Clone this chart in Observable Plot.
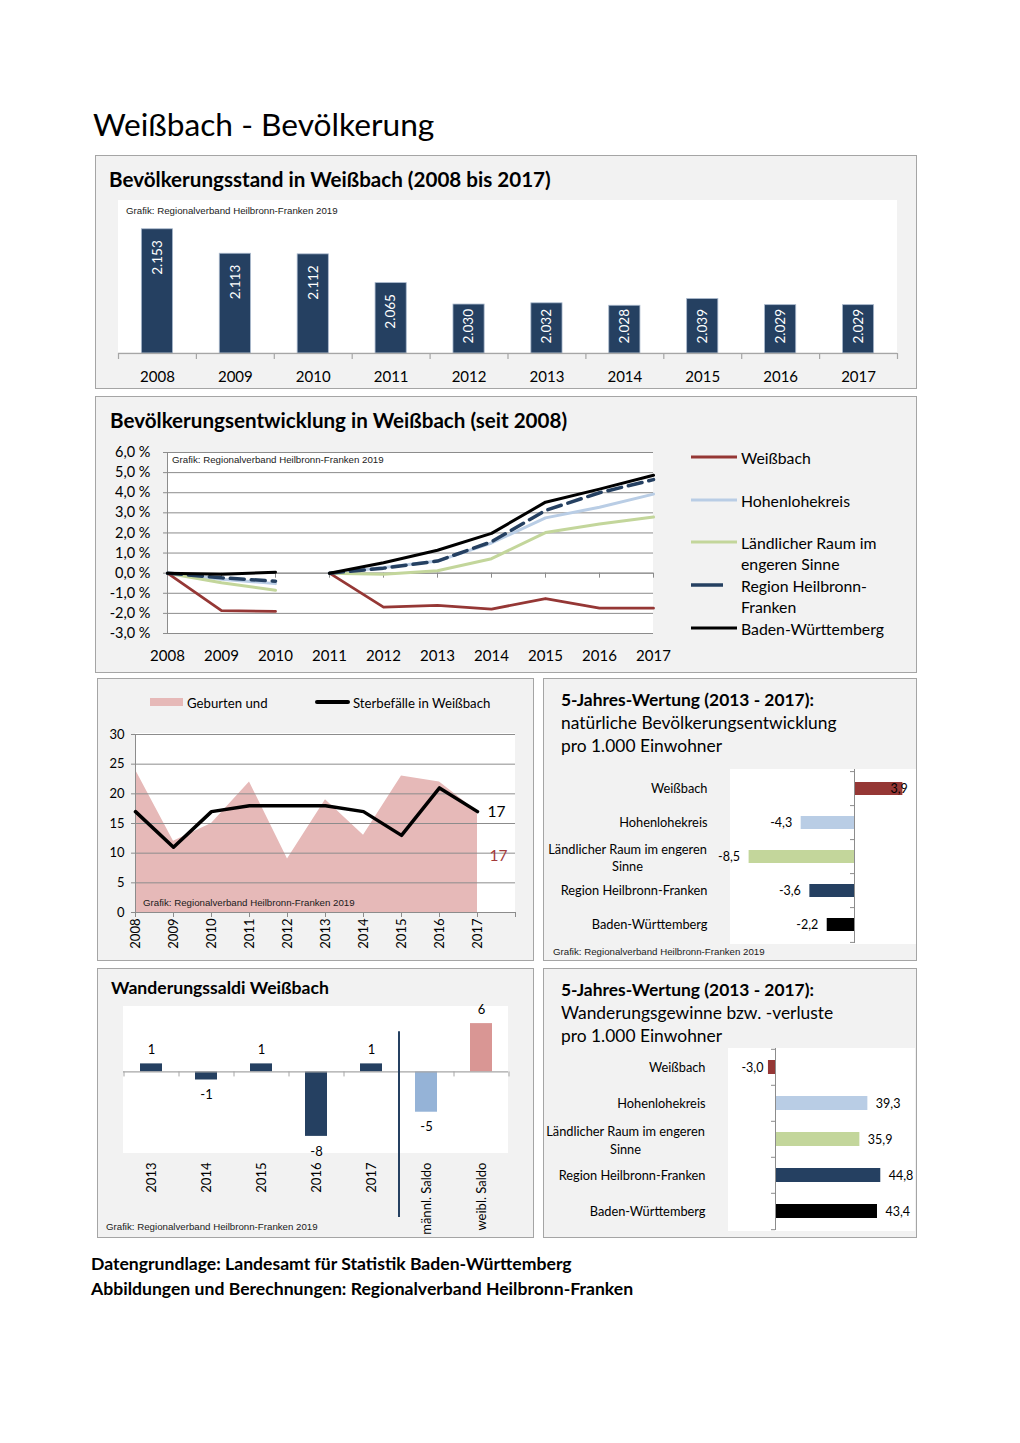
<!DOCTYPE html>
<html lang="de">
<head>
<meta charset="utf-8">
<title>Weißbach - Bevölkerung</title>
<script src="https://cdn.jsdelivr.net/npm/d3@7"></script>
<script src="https://cdn.jsdelivr.net/npm/@observablehq/plot@0.6"></script>
<style>
  html, body { margin: 0; padding: 0; background: #fff; }
  #page { position: relative; width: 1020px; height: 1443px; overflow: hidden; font-family: Lato, "Open Sans", sans-serif; color: #000; }
  .box { position: absolute; background: #f2f2f2; border: 1.5px solid #a5a5a5; box-sizing: border-box; }
  .white { position: absolute; background: #fff; }
  .txt { position: absolute; white-space: nowrap; }
  .grafik { position: absolute; white-space: nowrap; font-family: "Liberation Sans", Arial, sans-serif; font-size: 9.7px; line-height: 12px; color: #1a1a1a; }
  .chart { position: absolute; }
  .chart svg { overflow: visible; max-width: none; }
  .leg { position: absolute; white-space: nowrap; }
</style>
</head>
<body>
<div id="page">
  <div class="txt" style="left:93px;top:103px;font-size:31.7px;line-height:42px;">Weißbach - Bevölkerung</div>

  <div class="box" style="left:95px;top:155px;width:822px;height:234px;"></div>
  <div class="white" style="left:118px;top:200px;width:779px;height:155px;"></div>
  <div class="txt" style="left:109px;top:166px;font-size:20.6px;line-height:27px;font-weight:700;">Bevölkerungsstand in Weißbach (2008 bis 2017)</div>
  <div class="grafik" style="left:126px;top:205px;">Grafik: Regionalverband Heilbronn-Franken 2019</div>

  <div class="box" style="left:95px;top:396px;width:822px;height:277px;"></div>
  <div class="white" style="left:167px;top:452px;width:486px;height:181px;"></div>
  <div class="txt" style="left:110px;top:407px;font-size:20.6px;line-height:27px;font-weight:700;">Bevölkerungsentwicklung in Weißbach (seit 2008)</div>
  <div class="grafik" style="left:172px;top:454px;">Grafik: Regionalverband Heilbronn-Franken 2019</div>

  <div class="box" style="left:97px;top:678px;width:437px;height:283px;"></div>
  <div class="white" style="left:135px;top:733px;width:380px;height:179px;"></div>

  <div class="box" style="left:543px;top:678px;width:374px;height:283px;"></div>
  <div class="white" style="left:730px;top:769px;width:186px;height:175px;"></div>
  <div class="txt" style="left:561px;top:688px;font-size:17.4px;line-height:23px;">
    <b>5-Jahres-Wertung (2013 - 2017):</b><br>natürliche Bevölkerungsentwicklung<br>pro 1.000 Einwohner
  </div>
  <div class="grafik" style="left:553px;top:946px;">Grafik: Regionalverband Heilbronn-Franken 2019</div>

  <div class="box" style="left:97px;top:968px;width:437px;height:270px;"></div>
  <div class="white" style="left:123px;top:1006px;width:385px;height:147px;"></div>
  <div class="txt" style="left:111px;top:976px;font-size:17.6px;line-height:24px;font-weight:700;">Wanderungssaldi Weißbach</div>
  <div class="grafik" style="left:106px;top:1221px;">Grafik: Regionalverband Heilbronn-Franken 2019</div>

  <div class="box" style="left:543px;top:968px;width:374px;height:270px;"></div>
  <div class="white" style="left:728px;top:1048px;width:187px;height:183px;"></div>
  <div class="txt" style="left:561px;top:978px;font-size:17.4px;line-height:23px;">
    <b>5-Jahres-Wertung (2013 - 2017):</b><br>Wanderungsgewinne bzw. -verluste<br>pro 1.000 Einwohner
  </div>

  <div class="txt" style="left:91px;top:1251px;font-size:17.6px;line-height:25px;font-weight:700;">
    Datengrundlage: Landesamt für Statistik Baden-Württemberg<br>Abbildungen und Berechnungen: Regionalverband Heilbronn-Franken
  </div>
</div>
<script>
// ---------------- DATA ----------------
// Bevölkerungsstand
const bestandJahre = [2008, 2009, 2010, 2011, 2012, 2013, 2014, 2015, 2016, 2017];
const bestandWerte = [2153, 2113, 2112, 2065, 2030, 2032, 2028, 2039, 2029, 2029];

// Bevölkerungsentwicklung (%), Abschnitt A: 2008-2010, Abschnitt B: 2011-2017
const entwJahreA = [2008, 2009, 2010];
const entwJahreB = [2011, 2012, 2013, 2014, 2015, 2016, 2017];
const entwJahreAlle = [2008, 2009, 2010, 2011, 2012, 2013, 2014, 2015, 2016, 2017];
const entwReihen = ["Weißbach", "Hohenlohekreis", "Ländlicher Raum im engeren Sinne", "Region Heilbronn-Franken", "Baden-Württemberg"];
const weissbachA = [0, -1.86, -1.90];
const weissbachB = [0, -1.69, -1.60, -1.79, -1.26, -1.74, -1.74];
const hohenloheA = [0, -0.30, -0.52];
const hohenloheB = [0, 0.28, 0.60, 1.50, 2.75, 3.28, 3.93];
const laendlichA = [0, -0.48, -0.85];
const laendlichB = [0, -0.05, 0.12, 0.72, 2.02, 2.44, 2.79];
const regionA = [0, -0.23, -0.40];
const regionB = [0, 0.25, 0.60, 1.56, 3.12, 4.00, 4.65];
const bwA = [0, -0.05, 0.05];
const bwB = [0, 0.52, 1.14, 1.98, 3.53, 4.18, 4.87];
const entwYTicks = [-3, -2, -1, 0, 1, 2, 3, 4, 5, 6];

// Geburten und Sterbefälle
const natJahre = [2008, 2009, 2010, 2011, 2012, 2013, 2014, 2015, 2016, 2017];
const geburten = [24, 12, 15, 22, 9, 19, 13, 23, 22, 17];
const sterbefaelle = [17, 11, 17, 18, 18, 18, 17, 13, 21, 17];
const natYTicks = [0, 5, 10, 15, 20, 25, 30];

// 5-Jahres-Wertung
const gebiete = ["Weißbach", "Hohenlohekreis", "Ländlicher Raum im engeren Sinne", "Region Heilbronn-Franken", "Baden-Württemberg"];
const gebietFarben = ["#953735", "#b9cde5", "#c3d69b", "#254061", "#000000"];
const natSaldo5J = [3.9, -4.3, -8.5, -3.6, -2.2];
const wandSaldo5J = [-3.0, 39.3, 35.9, 44.8, 43.4];

// Wanderungssaldi Weißbach
const wandKategorien = ["2013", "2014", "2015", "2016", "2017", "männl. Saldo", "weibl. Saldo"];
const wandWerte = [1, -1, 1, -8, 1, -5, 6];
const wandFarben = ["#254061", "#254061", "#254061", "#254061", "#254061", "#95b3d7", "#d99694"];

// ---------------- HELPERS ----------------
const loc = d3.formatLocale({decimal: ",", thousands: ".", grouping: [3], currency: ["", "€"], minus: "-"});
const fmtPop = loc.format(",d");
const fmtDec = loc.format(".1f");
const FONT = "Lato, 'Open Sans', sans-serif";
const GRID = "#8c8c8c";
const AXIS = "#a6a6a6";
const page = document.getElementById("page");
const baseStyle = {background: "transparent", fontFamily: FONT, color: "#000", overflow: "visible"};

function mount(svg, left, top) {
  const d = document.createElement("div");
  d.className = "chart";
  d.style.left = left + "px";
  d.style.top = top + "px";
  d.appendChild(svg);
  page.appendChild(d);
}
function addLeg(html, left, top, style) {
  const d = document.createElement("div");
  d.className = "leg";
  d.style.left = left + "px";
  d.style.top = top + "px";
  d.style.cssText += style || "";
  d.innerHTML = html;
  page.appendChild(d);
}

// ---------------- CHART 1: Bevölkerungsstand ----------------
const bestand = bestandJahre.map((jahr, i) => ({jahr, wert: bestandWerte[i]}));
mount(Plot.plot({
  width: 779, height: 188,
  marginTop: 0, marginRight: 0, marginBottom: 35, marginLeft: 0,
  style: baseStyle,
  x: {domain: [bestandJahre[0] - 0.5, bestandJahre[bestandJahre.length - 1] + 0.5], label: null},
  y: {domain: [1950, 2200], axis: null, label: null},
  marks: [
    Plot.rectY(bestand, {x1: d => d.jahr - 0.2, x2: d => d.jahr + 0.2, y1: 1950, y2: "wert", fill: "#254061", stroke: "#a9b8cc", strokeWidth: 0.8}),
    Plot.ruleY([1950], {stroke: AXIS, strokeWidth: 1.5}),
    Plot.ruleX([...bestandJahre, bestandJahre[bestandJahre.length - 1] + 1], {x: d => d - 0.5, y1: 1950, y2: 1950, insetBottom: -6, stroke: AXIS, strokeWidth: 1.2}),
    Plot.text(bestand.filter(d => d.wert > 2050), {x: "jahr", y: "wert", text: d => fmtPop(d.wert), rotate: -90, textAnchor: "end", dy: 11, fill: "white", fontSize: 13.5}),
    Plot.text(bestand.filter(d => d.wert <= 2050), {x: "jahr", y: 1950, text: d => fmtPop(d.wert), rotate: -90, textAnchor: "start", dy: -10, fill: "white", fontSize: 13.5}),
    Plot.axisX(bestandJahre, {tickSize: 0, tickPadding: 18, tickFormat: d => String(d), fontSize: 15, label: null})
  ]
}), 118, 200);

// ---------------- CHART 2: Bevölkerungsentwicklung ----------------
const entwReihenDaten = [
  {name: entwReihen[0], a: weissbachA, b: weissbachB},
  {name: entwReihen[1], a: hohenloheA, b: hohenloheB},
  {name: entwReihen[2], a: laendlichA, b: laendlichB},
  {name: entwReihen[3], a: regionA, b: regionB},
  {name: entwReihen[4], a: bwA, b: bwB}
];
const entwicklung = [];
entwReihenDaten.forEach(r => {
  entwJahreA.forEach((jahr, i) => entwicklung.push({name: r.name, abschnitt: "A", jahr, wert: r.a[i]}));
  entwJahreB.forEach((jahr, i) => entwicklung.push({name: r.name, abschnitt: "B", jahr, wert: r.b[i]}));
});
const entwStil = {
  "Weißbach": {stroke: "#953735", strokeWidth: 2.8},
  "Hohenlohekreis": {stroke: "#b9cde5", strokeWidth: 3},
  "Ländlicher Raum im engeren Sinne": {stroke: "#c3d69b", strokeWidth: 3},
  "Region Heilbronn-Franken": {stroke: "#254061", strokeWidth: 3.5, strokeDasharray: "14,7"},
  "Baden-Württemberg": {stroke: "#000000", strokeWidth: 3}
};
const zeichenFolge = [entwReihen[1], entwReihen[2], entwReihen[0], entwReihen[3], entwReihen[4]];
mount(Plot.plot({
  width: 568, height: 223,
  marginTop: 12, marginRight: 10, marginBottom: 30, marginLeft: 72,
  style: baseStyle,
  x: {domain: [entwJahreAlle[0], entwJahreAlle[entwJahreAlle.length - 1]], label: null},
  y: {domain: [entwYTicks[0], entwYTicks[entwYTicks.length - 1]], label: null},
  marks: [
    Plot.gridY(entwYTicks, {stroke: GRID, strokeOpacity: 1, strokeWidth: 1}),
    Plot.ruleX([entwJahreAlle[0]], {stroke: GRID}),
    Plot.ruleY([0], {stroke: GRID}),
    Plot.ruleX(entwJahreAlle, {x: d => d, y1: 0, y2: 0, insetBottom: -5, stroke: GRID}),
    Plot.axisY(entwYTicks, {tickSize: 4, tickPadding: 13, tickFormat: d => fmtDec(d) + " %", fontSize: 14.5, stroke: GRID, label: null}),
    Plot.axisX(entwJahreAlle, {tickSize: 0, tickPadding: 17, tickFormat: d => String(d), fontSize: 15, label: null}),
    ...zeichenFolge.map(name => Plot.line(entwicklung.filter(d => d.name === name), {x: "jahr", y: "wert", z: "abschnitt", ...entwStil[name]}))
  ]
}), 95, 440);

// Legend chart 2
const legPos = [
  {name: "Weißbach", label: "Weißbach", y: 457},
  {name: "Hohenlohekreis", label: "Hohenlohekreis", y: 500},
  {name: "Ländlicher Raum im engeren Sinne", label: "Ländlicher Raum im<br>engeren Sinne", y: 542},
  {name: "Region Heilbronn-Franken", label: "Region Heilbronn-<br>Franken", y: 585},
  {name: "Baden-Württemberg", label: "Baden-Württemberg", y: 628}
];
legPos.forEach(l => {
  const s = entwStil[l.name];
  const dash = s.strokeDasharray ? "stroke-dasharray='32,14'" : "";
  addLeg(`<svg width="48" height="8" style="display:block"><line x1="0" x2="46" y1="4" y2="4" stroke="${s.stroke}" stroke-width="${s.strokeWidth}" ${dash}/></svg>`, 691, l.y - 4, "");
  addLeg(l.label, 741, l.y - 10.5, "font-size:15.8px;line-height:21.5px;");
});

// ---------------- CHART 3: Geburten und Sterbefälle ----------------
const natGeb = natJahre.map((jahr, i) => ({jahr, wert: geburten[i]}));
const natSterb = natJahre.map((jahr, i) => ({jahr, wert: sterbefaelle[i]}));
mount(Plot.plot({
  width: 436, height: 237,
  marginTop: 9, marginRight: 18, marginBottom: 50, marginLeft: 38,
  style: baseStyle,
  x: {domain: [natJahre[0], natJahre[natJahre.length - 1] + 1], label: null},
  y: {domain: [natYTicks[0], natYTicks[natYTicks.length - 1]], label: null},
  marks: [
    Plot.areaY(natGeb, {x: "jahr", y: "wert", fill: "#e6b9b8"}),
    Plot.gridY(natYTicks.slice(1), {stroke: GRID, strokeOpacity: 1}),
    Plot.ruleX([natJahre[0]], {stroke: GRID}),
    Plot.ruleY([0], {stroke: GRID}),
    Plot.axisY(natYTicks, {tickSize: 4, tickPadding: 7, fontSize: 13, stroke: GRID, label: null}),
    Plot.axisX([...natJahre, natJahre[natJahre.length - 1] + 1], {tickSize: 5, tickFormat: () => "", stroke: GRID, label: null}),
    Plot.axisX(natJahre, {tickSize: 0, tickPadding: 6, tickRotate: -90, tickFormat: d => String(d), fontSize: 13, label: null}),
    Plot.line(natSterb, {x: "jahr", y: "wert", stroke: "#000", strokeWidth: 3.5}),
    Plot.text(natSterb.slice(-1), {x: "jahr", y: "wert", text: d => String(d.wert), dx: 19, fontSize: 15.5}),
    Plot.text(natGeb.slice(-1), {x: "jahr", y: "wert", text: d => String(d.wert), dx: 21, dy: 44, fontSize: 15.5, fill: "#a33a3a"})
  ]
}), 97, 725);
addLeg("", 150, 698, "width:33px;height:8px;background:#e6b9b8;");
addLeg("Geburten und", 187, 695, "font-size:13.2px;line-height:16px;");
addLeg("", 315, 700, "width:35px;height:4px;background:#000;border-radius:2px;");
addLeg("Sterbefälle in Weißbach", 353, 695, "font-size:13.2px;line-height:16px;");
addLeg("Grafik: Regionalverband Heilbronn-Franken 2019", 143, 897, "font-family:'Liberation Sans',Arial,sans-serif;font-size:9.7px;line-height:12px;color:#1a1a1a;");

// ---------------- CHART 4 & 6: 5-Jahres-Wertung ----------------
function wertung(werte, opts) {
  const daten = gebiete.map((gebiet, i) => ({gebiet, wert: werte[i]}));
  const step = opts.h / gebiete.length;
  const lang = gebiete[2];
  return Plot.plot({
    width: 373, height: opts.h,
    marginTop: 0, marginBottom: 0, marginRight: 0, marginLeft: opts.ml,
    style: baseStyle,
    x: {domain: opts.domain, axis: null, label: null},
    y: {domain: gebiete, paddingInner: opts.pad, paddingOuter: opts.pad / 2, label: null},
    color: {domain: gebiete, range: gebietFarben},
    marks: [
      Plot.barX(daten, {x: "wert", y: "gebiet", fill: "gebiet"}),
      Plot.ruleX([0], {stroke: GRID}),
      Plot.ruleY(gebiete, {y: d => d, dy: -step / 2, x1: 0, x2: 0, insetLeft: -4, stroke: GRID}),
      Plot.ruleY(gebiete.slice(-1), {y: d => d, dy: step / 2, x1: 0, x2: 0, insetLeft: -4, stroke: GRID}),
      Plot.axisY(gebiete, {tickSize: 0, tickPadding: 23, fontSize: 12.8, tickFormat: d => d === lang ? "" : d, label: null}),
      Plot.text([lang], {y: d => d, frameAnchor: "left", dx: opts.langDx, text: () => "Ländlicher Raum im engeren\nSinne", textAnchor: "middle", lineHeight: 1.35, fontSize: 12.8}),
      Plot.text(daten.filter(d => d.wert < 0), {x: "wert", y: "gebiet", text: d => fmtDec(d.wert), textAnchor: "end", dx: opts.negDx, fontSize: 12.5}),
      Plot.text(daten.filter(d => d.wert >= 0), {x: "wert", y: "gebiet", text: d => fmtDec(d.wert), textAnchor: opts.posAnchor, dx: opts.posDx, fontSize: 12.5})
    ]
  });
}
mount(wertung(natSaldo5J, {h: 174, ml: 187, domain: [-10, 5], pad: 0.62, langDx: -103, negDx: -9, posAnchor: "end", posDx: 5}), 543, 769);
mount(wertung(wandSaldo5J, {h: 182, ml: 185, domain: [-20, 60], pad: 0.6, langDx: -103, negDx: -5, posAnchor: "start", posDx: 8}), 543, 1048);

// ---------------- CHART 5: Wanderungssaldi ----------------
const wand = wandKategorien.map((kat, i) => ({kat, wert: wandWerte[i]}));
const wandStep = 385 / wandKategorien.length;
mount(Plot.plot({
  width: 436, height: 237,
  marginTop: 7, marginRight: 25, marginBottom: 85, marginLeft: 26,
  style: baseStyle,
  x: {domain: wandKategorien, paddingInner: 0.6, paddingOuter: 0.3, label: null},
  y: {domain: [-10, 8], axis: null, label: null},
  color: {domain: wandKategorien, range: wandFarben},
  marks: [
    Plot.barY(wand, {x: "kat", y: "wert", fill: "kat"}),
    Plot.ruleY([0], {stroke: AXIS, strokeWidth: 1.2}),
    Plot.ruleX(wandKategorien, {x: d => d, dx: -wandStep / 2, y1: 0, y2: 0, insetBottom: -5, stroke: AXIS}),
    Plot.ruleX(wandKategorien.slice(-1), {x: d => d, dx: wandStep / 2, y1: 0, y2: 0, insetBottom: -5, stroke: AXIS}),
    Plot.ruleX(["männl. Saldo"], {x: d => d, dx: -wandStep / 2, y1: 5, y2: -10, insetBottom: -65, stroke: "#254061", strokeWidth: 2}),
    Plot.text(wand.filter(d => d.wert >= 0), {x: "kat", y: "wert", text: d => String(d.wert), dy: -14, fontSize: 13}),
    Plot.text(wand.filter(d => d.wert < 0), {x: "kat", y: "wert", text: d => String(d.wert), dy: 15, fontSize: 13}),
    Plot.axisX(wandKategorien, {tickSize: 0, tickPadding: 10, tickRotate: -90, fontSize: 13, label: null})
  ]
}), 97, 1000);
</script>
</body>
</html>
